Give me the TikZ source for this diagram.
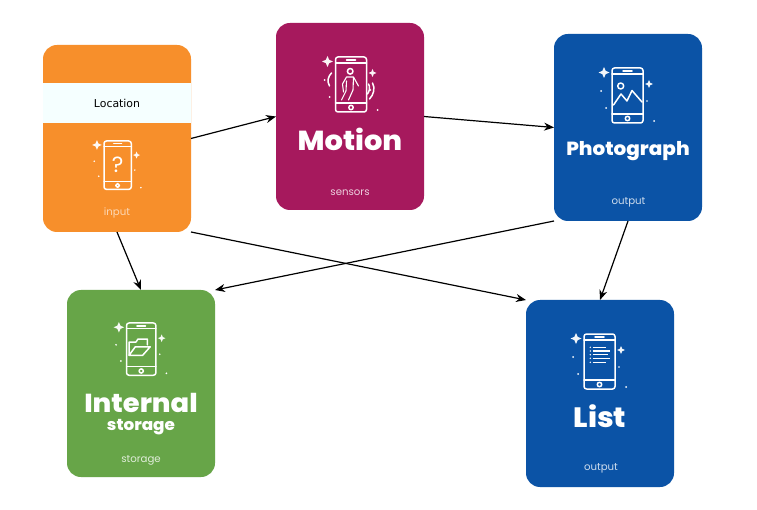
\documentclass[tikz,border=0pt]{standalone}
\usepackage{fontspec}
\setmainfont{Poppins}
\newfontfamily\locfont{DejaVu Sans}
\newfontfamily\titlefont{Poppins ExtraBold}[FakeStretch=1.05]
\usetikzlibrary{arrows.meta}
\definecolor{corange}{HTML}{F78F2B}
\definecolor{cmagenta}{HTML}{A6195D}
\definecolor{cblue}{HTML}{0B53A6}
\definecolor{cgreen}{HTML}{67A548}
\definecolor{cband}{HTML}{F5FFFF}
\tikzset{
  card/.style={rounded corners=14pt,minimum width=148pt,minimum height=187pt,inner sep=0pt,outer sep=0pt,fill=#1},
  band/.style={fill=cband,minimum width=148pt,minimum height=40pt,inner sep=0pt,outer sep=0pt},
  link/.style={draw=black,line width=1.2pt,-{Stealth[length=10pt,width=8pt]}},
  title/.style={text=white,inner sep=0pt,font=\titlefont\fontsize{#1}{#1}\selectfont},
  sublabel/.style={text=white,opacity=.8,inner sep=0pt,font=\fontsize{10.2}{10.2}\selectfont},
  iconline/.style={draw=white,line width=1.5pt,line join=round,line cap=round},
}
\newcommand{\sparkle}[3]{\fill[white,opacity=.95] (#1,#2-#3) -- (#1+.3*#3,#2-.3*#3) -- (#1+#3,#2) -- (#1+.3*#3,#2+.3*#3) -- (#1,#2+#3) -- (#1-.3*#3,#2+.3*#3) -- (#1-#3,#2) -- (#1-.3*#3,#2-.3*#3) -- cycle;}
\newcommand{\phoneframe}{%
  \draw[iconline,rounded corners=2.5pt] (0,0) rectangle (31,55);
  \draw[iconline] (0,6) -- (31,6) (0,46) -- (31,46) (11,3) -- (20,3);
  \draw[iconline] (15.5,50.5) circle (2.2);
  \sparkle{-8}{4.5}{5.5}
  \sparkle{37}{16}{4}
  \fill[white] (-11,23) circle (1) (-6,40) circle (1) (35,33) circle (.9) (42,53) circle (1);
}
\begin{document}
\begin{tikzpicture}[x=1pt,y=-1pt]
\useasboundingbox (0,0) rectangle (757,510);
\fill[white] (0,0) rectangle (757,510);

\node[card=corange] (loc) at (117,138.5) {};
\node[card=cmagenta] (motion) at (350,116.5) {};
\node[card=cblue] (photo) at (628,127.5) {};
\node[card=cgreen] (internal) at (141,383.5) {};
\node[card=cblue] (list) at (600,393.5) {};
\node[band] (locband) at (117,103) {\locfont\fontsize{10.9}{10.9}\selectfont Location};

\draw[link] (loc.east) -- (motion.west);
\draw[link] (motion.east) -- (photo.west);
\draw[link] (photo.south west) -- (internal.north east);
\draw[link] (photo.south) -- (list.north);
\draw[link] (loc.south east) -- (list.north west);
\draw[link] (loc.south) -- (internal.north);

% Location icon
\begin{scope}[shift={(104,141)},scale=.88]
  \phoneframe
  \node[text=white,inner sep=0pt,font=\fontsize{22}{22}\selectfont] (qmark) at (15.5,27) {?};
\end{scope}
\node[sublabel,text=white,opacity=.65] (lblinput) at (117,213) {input};

% Motion icon
\begin{scope}[shift={(335.5,57)}]
  \phoneframe
  \draw[iconline] (14.7,14.3) circle (2.8);
  \draw[iconline,line width=1.1pt] (11,20) -- (18,20) -- (23,29) (18,20) -- (17.5,33) -- (13,43) (11,20) -- (7,27) -- (8,35) (11,24) -- (10.5,34) -- (6,43);
  \draw[iconline] (-6,29) .. controls (-9,24) and (-7,19) .. (-4,16);
  \draw[iconline] (33,27) .. controls (35,30) and (34,34) .. (32,37);
  \draw[iconline] (37,26) .. controls (40,31) and (38,38) .. (34,42);
\end{scope}
\node[title=27.5] (ttlmotion) at (350,139.5) {Motion};
\node[sublabel] (lblsensors) at (350,193) {sensors};

% Photograph icon
\begin{scope}[shift={(612,68)}]
  \phoneframe
  \draw[iconline] (8.7,18) circle (3);
  \draw[iconline] (1.5,37) -- (9,26) -- (15,33) -- (20,22.5) -- (30,34);
\end{scope}
\node[title=19] (ttlphoto) at (628,151.5) {Photograph};
\node[sublabel] (lblout1) at (628.5,202.5) {output};

% Internal icon
\begin{scope}[shift={(126.5,323)},scale=.95]
  \phoneframe
  \draw[iconline] (2.7,34) -- (2.7,20) -- (10,20) -- (12,17) -- (22,17) -- (22,23);
  \draw[iconline] (2.7,34) -- (9.3,25) -- (25,25) -- (17,34) -- cycle;
\end{scope}
\node[title=26] (ttlinternal) at (141,402.5) {Internal};
\node[title=16] (ttlstorage) at (141,427) {storage};
\node[sublabel] (lblstorage) at (141,460) {storage};

% List icon
\begin{scope}[shift={(584,334)}]
  \phoneframe
  \fill[white] (6.3,13.3) circle (.8) (6.3,17) circle (.8) (6.3,20.7) circle (.8) (6.3,24.3) circle (.8) (6.3,28.3) circle (.8);
  \draw[white,line width=1.2pt] (8.7,13.3) -- (22,13.3) (8.7,17) -- (26,17) (8.7,20.7) -- (24,20.7) (8.7,24.3) -- (26,24.3) (8.7,28.3) -- (22,28.3);
\end{scope}
\node[title=28] (ttllist) at (600,416) {List};
\node[sublabel] (lblout2) at (601,468.5) {output};
\end{tikzpicture}
\end{document}
